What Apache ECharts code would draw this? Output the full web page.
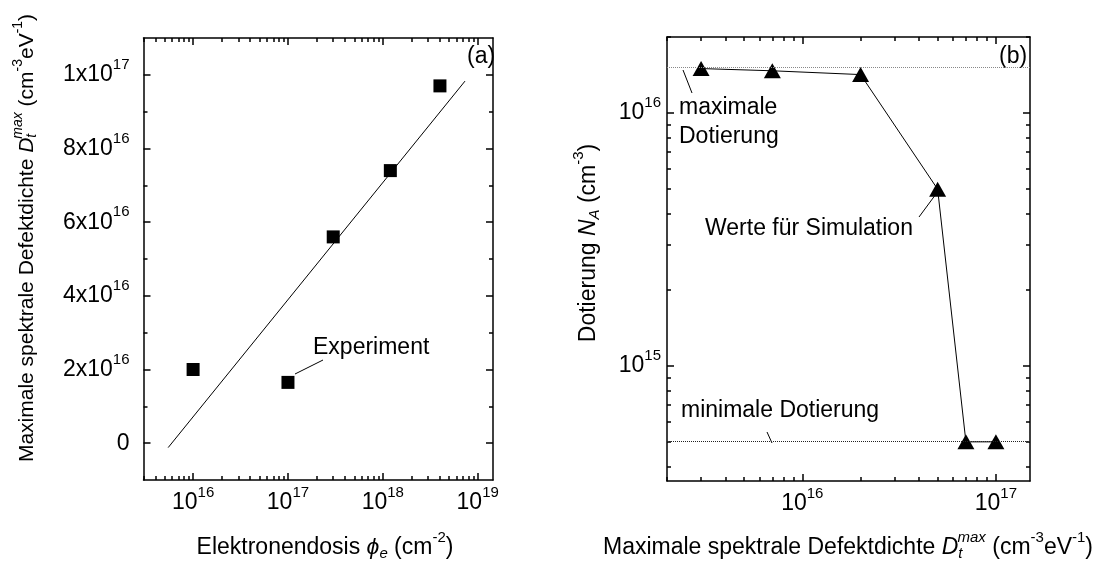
<!DOCTYPE html>
<html>
<head>
<meta charset="utf-8">
<script src="https://cdn.jsdelivr.net/npm/echarts@6/dist/echarts.min.js"></script>
<style>
  html, body { margin: 0; padding: 0; background: #fff; }
  #chart { width: 1101px; height: 565px; }
</style>
</head>
<body>
<div id="chart"></div>
<script>
// ---- Panel (a): maximum spectral defect density vs. electron dose ----
const doseValues = [1e16, 1e17, 3e17, 1.2e18, 4e18];
const densityValues = [2.0e16, 1.65e16, 5.6e16, 7.4e16, 9.7e16];
const fitDose = [5.46e15, 7.35e18];
const fitDensity = [-0.12e16, 9.83e16];
const doseRange = [3e15, 1.45e19];
const densityRange = [-1e16, 1.1e17];
const doseDecades = [16, 17, 18, 19];
const densityTicks = [0, 2e16, 4e16, 6e16, 8e16, 1e17];
const densityTickMantissa = ['0', '2', '4', '6', '8', '1'];
const densityTickExponent = ['', '16', '16', '16', '16', '17'];
const densityMinorTicks = [1e16, 3e16, 5e16, 7e16, 9e16];

// ---- Panel (b): doping vs. maximum spectral defect density ----
const defectValues = [3e15, 7e15, 2e16, 5e16, 7e16, 1e17];
const dopingValues = [1.5e16, 1.47e16, 1.42e16, 5e15, 5e14, 5e14];
const maxDoping = 1.5e16;
const minDoping = 5e14;
const defectRange = [2e15, 1.5e17];
const dopingRange = [3.5e14, 2e16];
const defectDecades = [16, 17];
const dopingDecades = [15, 16];

const FONT = '"Liberation Sans", Arial, sans-serif';
const LINE = { color: '#000', width: 1.5 };
const lg = Math.log10;

// log-spaced minor tick positions (2..9 x 10^n) inside a range
function minorLogTicks(range) {
  const out = [];
  for (let e = Math.floor(lg(range[0])); e <= Math.ceil(lg(range[1])); e++) {
    for (let k = 2; k <= 9; k++) {
      const v = k * Math.pow(10, e);
      if (v >= range[0] && v <= range[1]) out.push(lg(v));
    }
  }
  return out;
}

const RICH_TICK = {
  b: { fontSize: 23, fontFamily: FONT, color: '#000' },
  sup: { fontSize: 15, fontFamily: FONT, color: '#000', padding: [0, 0, 20, 0] }
};
function richText(size) {
  const s = Math.round(size * 0.65);
  return {
    n: { fontSize: size, fontFamily: FONT, color: '#000' },
    i: { fontSize: size, fontFamily: FONT, color: '#000', fontStyle: 'italic' },
    sup: { fontSize: s, fontFamily: FONT, color: '#000', padding: [0, 0, Math.round(size * 0.87), 0] },
    isub: { fontSize: s, fontFamily: FONT, color: '#000', fontStyle: 'italic', padding: [Math.round(size * 0.48), 0, 0, 0] },
    isupb: { fontSize: s, fontFamily: FONT, color: '#000', fontStyle: 'italic',
             padding: [0, 0, Math.round(size * 0.87), -Math.round(size * 0.22)] }
  };
}
const RICH_TEXT = richText(23);
const RICH_LEFT_TITLE = richText(21);

const xAxes = [];
const yAxes = [];
function axis(list, gridIndex, position, range, ticks, len, showLine, label) {
  list.push({
    type: 'value', gridIndex: gridIndex, position: position,
    min: range[0], max: range[1],
    axisLine: { show: showLine, onZero: false, lineStyle: LINE },
    axisTick: { show: true, inside: true, length: len, customValues: ticks, lineStyle: LINE },
    axisLabel: label || { show: false },
    splitLine: { show: false },
    axisPointer: { show: false }
  });
  return list.length - 1;
}

const decadeLabel = (margin, decades) => ({
  show: true, margin: margin, customValues: decades,
  formatter: v => '{b|10}{sup|' + Math.round(v) + '}',
  rich: RICH_TICK
});

// grid 0 : panel (a)
const doseLog = [lg(doseRange[0]), lg(doseRange[1])];
const ax0 = axis(xAxes, 0, 'bottom', doseLog, doseDecades, 7, true, decadeLabel(5, doseDecades));
axis(xAxes, 0, 'bottom', doseLog, minorLogTicks(doseRange), 4, false);
axis(xAxes, 0, 'top', doseLog, doseDecades, 7, true);
axis(xAxes, 0, 'top', doseLog, minorLogTicks(doseRange), 4, false);

const ay0 = axis(yAxes, 0, 'left', densityRange, densityTicks, 7, true, {
  show: true, margin: 14, customValues: densityTicks, rich: RICH_TICK,
  formatter: v => {
    const i = densityTicks.findIndex(t => Math.abs(t - v) < 1e12);
    if (densityTickExponent[i] === '') return '{b|' + densityTickMantissa[i] + '}';
    return '{b|' + densityTickMantissa[i] + 'x10}{sup|' + densityTickExponent[i] + '}';
  }
});
axis(yAxes, 0, 'left', densityRange, densityMinorTicks, 4, false);
axis(yAxes, 0, 'right', densityRange, densityTicks, 7, true);
axis(yAxes, 0, 'right', densityRange, densityMinorTicks, 4, false);

// grid 1 : panel (b)
const defectLog = [lg(defectRange[0]), lg(defectRange[1])];
const dopingLog = [lg(dopingRange[0]), lg(dopingRange[1])];
const ax1 = axis(xAxes, 1, 'bottom', defectLog, defectDecades, 7, true, decadeLabel(5, defectDecades));
axis(xAxes, 1, 'bottom', defectLog, minorLogTicks(defectRange), 4, false);
axis(xAxes, 1, 'top', defectLog, defectDecades, 7, true);
axis(xAxes, 1, 'top', defectLog, minorLogTicks(defectRange), 4, false);

const ay1 = axis(yAxes, 1, 'left', dopingLog, dopingDecades, 7, true, decadeLabel(6, dopingDecades));
axis(yAxes, 1, 'left', dopingLog, minorLogTicks(dopingRange), 4, false);
axis(yAxes, 1, 'right', dopingLog, dopingDecades, 7, true);
axis(yAxes, 1, 'right', dopingLog, minorLogTicks(dopingRange), 4, false);

function txt(x, y, text, align, extra, rich, size) {
  return Object.assign({
    type: 'text', x: x, y: y, silent: true,
    style: { text: text, rich: rich || RICH_TEXT, align: align || 'left', verticalAlign: 'middle',
             font: (size || 23) + 'px ' + FONT, fill: '#000' }
  }, extra || {});
}
function leader(x1, y1, x2, y2) {
  return { type: 'line', silent: true, shape: { x1: x1, y1: y1, x2: x2, y2: y2 },
           style: { stroke: '#000', lineWidth: 1 } };
}

const defectTitle = '{n|Maximale spektrale Defektdichte }{i|D}{isub|t}{isupb|max}{n| (cm}{sup|-3}{n|eV}{sup|-1}{n|)}';

const option = {
  animation: false,
  backgroundColor: '#fff',
  grid: [
    { left: 143.5, top: 38, width: 349.5, height: 442 },
    { left: 667, top: 37, width: 363, height: 444 }
  ],
  xAxis: xAxes,
  yAxis: yAxes,
  series: [
    {
      type: 'line', xAxisIndex: ax0, yAxisIndex: ay0, silent: true, z: 2,
      data: fitDose.map((d, i) => [lg(d), fitDensity[i]]),
      symbol: 'none', lineStyle: { color: '#000', width: 1 }
    },
    {
      type: 'scatter', xAxisIndex: ax0, yAxisIndex: ay0, silent: true, z: 3,
      data: doseValues.map((d, i) => [lg(d), densityValues[i]]),
      symbol: 'rect', symbolSize: 13, itemStyle: { color: '#000', opacity: 1 }
    },
    {
      type: 'line', xAxisIndex: ax1, yAxisIndex: ay1, silent: true, z: 3,
      data: defectValues.map((d, i) => [lg(d), lg(dopingValues[i])]),
      symbol: 'triangle', symbolSize: [17, 15], showAllSymbol: true,
      itemStyle: { color: '#000', opacity: 1 }, lineStyle: { color: '#000', width: 1 },
      markLine: {
        silent: true, symbol: ['none', 'none'], label: { show: false },
        data: [
          { yAxis: lg(maxDoping), lineStyle: { type: 'dotted', color: '#888', width: 1 } },
          { yAxis: lg(minDoping), lineStyle: { type: 'dotted', color: '#222', width: 1 } }
        ]
      }
    }
  ],
  graphic: [
    // axis titles
    txt(325, 548, '{n|Elektronendosis }{i|ϕ}{isub|e}{n| (cm}{sup|-2}{n|)}', 'center'),
    txt(848, 548, defectTitle, 'center'),
    txt(27, 238, defectTitle, 'center', { rotation: Math.PI / 2 }, RICH_LEFT_TITLE, 21),
    txt(589, 243, '{n|Dotierung }{i|N}{isub|A}{n| (cm}{sup|-3}{n|)}', 'center', { rotation: Math.PI / 2 }),
    // panel tags
    txt(467, 57, '{n|(a)}'),
    txt(999, 57, '{n|(b)}'),
    // annotations
    txt(313, 348, '{n|Experiment}'),
    leader(295, 374, 323, 360),
    txt(679, 108, '{n|maximale}'),
    txt(679, 137, '{n|Dotierung}'),
    leader(683, 70, 692, 93),
    txt(705, 229, '{n|Werte für Simulation}'),
    leader(919, 217, 936, 194),
    txt(681, 411, '{n|minimale Dotierung}'),
    leader(767, 432, 772, 443)
  ]
};

const chart = echarts.init(document.getElementById('chart'), null, { renderer: 'canvas' });
chart.setOption(option);
</script>
</body>
</html>
